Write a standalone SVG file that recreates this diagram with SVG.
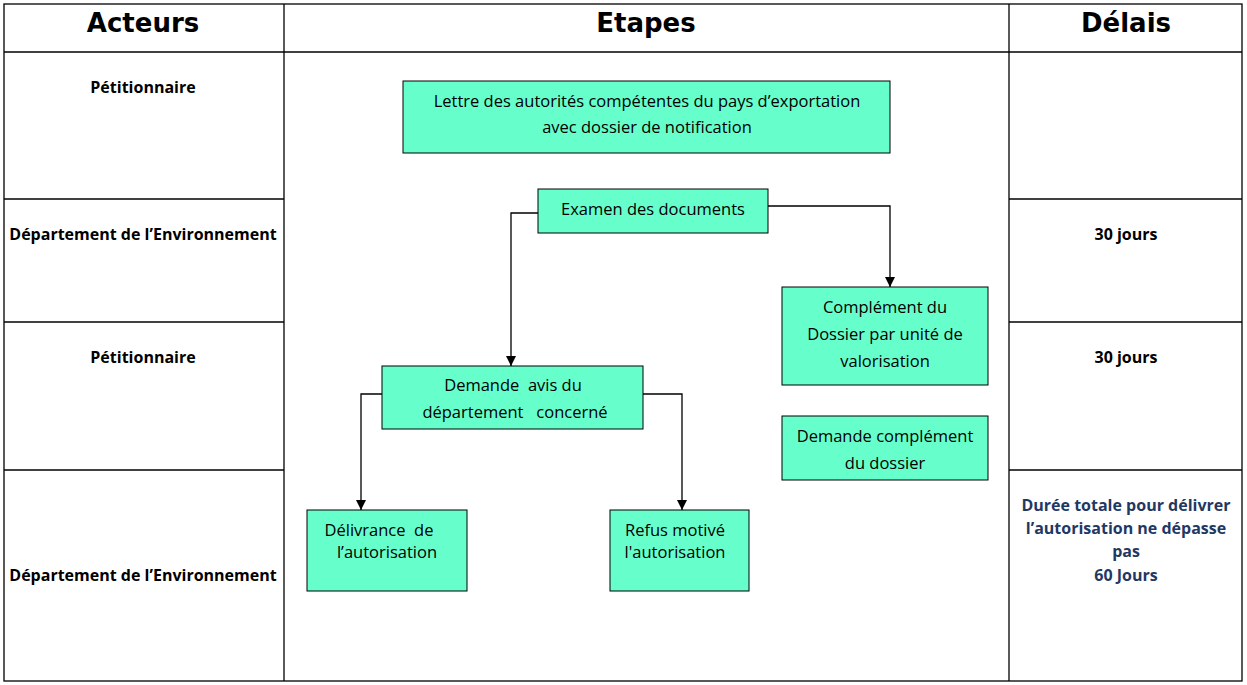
<svg xmlns="http://www.w3.org/2000/svg" width="1247" height="685" viewBox="0 0 1247 685">
<defs>
<marker id="arr" viewBox="0 0 10 10" refX="10" refY="5" markerWidth="10" markerHeight="10" markerUnits="userSpaceOnUse" orient="auto">
<path d="M0,0 L10,5 L0,10 z" fill="#000"/>
</marker>
<style>
.grid{stroke:#000;stroke-width:1.3;fill:none}
.hd{font-family:"DejaVu Sans",Verdana,sans-serif;font-weight:bold;font-size:26px;text-anchor:middle;fill:#000}
.act{font-family:"Open Sans","Liberation Sans",sans-serif;font-weight:bold;font-size:16px;text-anchor:middle;fill:#000}
.bl{font-family:"Open Sans","Liberation Sans",sans-serif;font-weight:bold;font-size:16px;text-anchor:middle;fill:#1F3864}
.box{fill:#66FFCC;stroke:#000;stroke-width:1}
.bt{font-family:"Open Sans","Liberation Sans",sans-serif;font-size:16.5px;text-anchor:middle;fill:#000;white-space:pre}
.con{stroke:#000;stroke-width:1.3;fill:none;marker-end:url(#arr)}
</style>
</defs>
<rect x="0" y="0" width="1247" height="685" fill="#fff"/>
<g id="table">
<rect class="grid" x="4" y="4" width="1238" height="677"/>
<line class="grid" x1="284" y1="4" x2="284" y2="681"/>
<line class="grid" x1="1009" y1="4" x2="1009" y2="681"/>
<line class="grid" x1="4" y1="52" x2="1242" y2="52"/>
<line class="grid" x1="4" y1="199" x2="284" y2="199"/>
<line class="grid" x1="4" y1="322" x2="284" y2="322"/>
<line class="grid" x1="4" y1="470" x2="284" y2="470"/>
<line class="grid" x1="1009" y1="199" x2="1242" y2="199"/>
<line class="grid" x1="1009" y1="322" x2="1242" y2="322"/>
<line class="grid" x1="1009" y1="470" x2="1242" y2="470"/>
<text class="hd" x="143" y="32">Acteurs</text>
<text class="hd" x="646" y="32">Etapes</text>
<text class="hd" x="1126" y="32">Délais</text>
<text class="act" x="143" y="93">Pétitionnaire</text>
<text class="act" x="143" y="240">Département de l’Environnement</text>
<text class="act" x="143" y="363">Pétitionnaire</text>
<text class="act" x="143" y="581">Département de l’Environnement</text>
<text class="act" x="1126" y="240">30 jours</text>
<text class="act" x="1126" y="363">30 jours</text>
<text class="bl" x="1126" y="511">Durée  totale pour délivrer</text>
<text class="bl" x="1126" y="534">l’autorisation ne dépasse</text>
<text class="bl" x="1126" y="557">pas</text>
<text class="bl" x="1126" y="581">60 Jours</text>
</g>
<g id="connectors">
<polyline class="con" points="538,213 511,213 511,366"/>
<polyline class="con" points="768,206 890,206 890,287"/>
<polyline class="con" points="382,394 361,394 361,510"/>
<polyline class="con" points="643,394 682,394 682,510"/>
</g>
<g id="n-lettre">
<rect class="box" x="403" y="81" width="487" height="72"/>
<text class="bt" x="647" y="107">Lettre des autorités compétentes du pays d’exportation</text>
<text class="bt" x="647" y="133">avec dossier de notification</text>
</g>
<g id="n-examen">
<rect class="box" x="538" y="189" width="230" height="44"/>
<text class="bt" x="653" y="215">Examen des documents</text>
</g>
<g id="n-complement">
<rect class="box" x="782" y="287" width="206" height="98"/>
<text class="bt" x="885" y="313">Complément du</text>
<text class="bt" x="885" y="340">Dossier par unité de</text>
<text class="bt" x="885" y="367">valorisation</text>
</g>
<g id="n-demande-complement">
<rect class="box" x="782" y="416" width="206" height="64"/>
<text class="bt" x="885" y="442">Demande complément</text>
<text class="bt" x="885" y="469">du dossier</text>
</g>
<g id="n-demande-avis">
<rect class="box" x="382" y="366" width="261" height="63"/>
<text class="bt" x="513" y="391">Demande  avis du</text>
<text class="bt" x="515" y="418">département   concerné</text>
</g>
<g id="n-delivrance">
<rect class="box" x="307" y="510" width="160" height="81"/>
<text class="bt" x="379" y="536">Délivrance  de</text>
<text class="bt" x="387" y="558">l’autorisation</text>
</g>
<g id="n-refus">
<rect class="box" x="610" y="510" width="139" height="81"/>
<text class="bt" x="675" y="536">Refus motivé</text>
<text class="bt" x="675" y="558">l'autorisation</text>
</g>
</svg>
